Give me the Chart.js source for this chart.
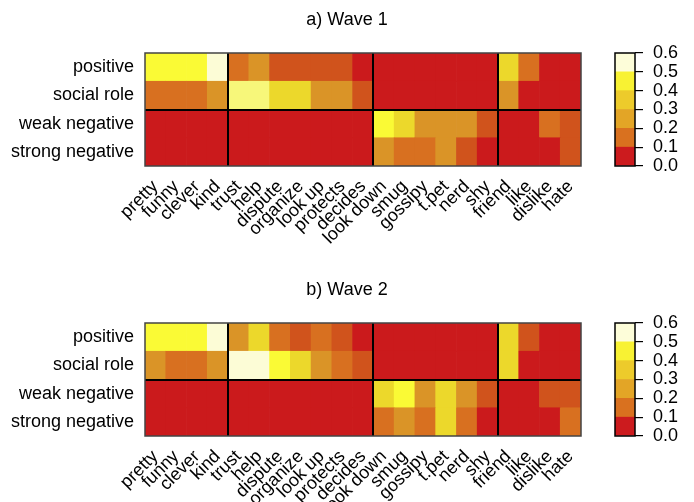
<!DOCTYPE html>
<html>
<head>
<meta charset="utf-8">
<script src="https://cdn.jsdelivr.net/npm/chart.js@4/dist/chart.umd.min.js"></script>
<style>
  body { margin: 0; background: #fff; }
  #wrap { position: relative; width: 694px; height: 502px; overflow: hidden; }
  canvas { position: absolute; }
</style>
</head>
<body>
<div id="wrap">
  <canvas id="heat1" style="left:0;top:0"></canvas>
  <canvas id="bar1" style="left:600px;top:0"></canvas>
  <canvas id="heat2" style="left:0;top:270px"></canvas>
  <canvas id="bar2" style="left:600px;top:270px"></canvas>
</div>
<script>
// Words (columns) and word types (rows)
const columns = ['pretty', 'funny', 'clever', 'kind',
    'trust', 'help', 'dispute', 'organize', 'look up', 'protects', 'decides',
    'look down', 'smug', 'gossipy', 't.pet', 'nerd', 'shy',
    'friend', 'like', 'dislike', 'hate'];
const rows = ['positive', 'social role', 'weak negative', 'strong negative'];
const groupEnds = [3, 10, 16];   // last column of each word group

// Wave 1 values
const w1Positive  = [0.45, 0.45, 0.45, 0.58, 0.17, 0.24, 0.12, 0.12, 0.12, 0.12, 0.05, 0.02, 0.02, 0.02, 0.02, 0.02, 0.02, 0.35, 0.17, 0.03, 0.03];
const w1Social    = [0.17, 0.17, 0.17, 0.24, 0.52, 0.52, 0.35, 0.35, 0.24, 0.24, 0.12, 0.02, 0.02, 0.02, 0.02, 0.02, 0.02, 0.24, 0.03, 0.02, 0.02];
const w1WeakNeg   = [0.02, 0.02, 0.02, 0.02, 0.02, 0.02, 0.02, 0.02, 0.02, 0.02, 0.02, 0.45, 0.35, 0.24, 0.24, 0.24, 0.12, 0.04, 0.03, 0.17, 0.12];
const w1StrongNeg = [0.02, 0.02, 0.02, 0.02, 0.02, 0.02, 0.02, 0.02, 0.02, 0.02, 0.02, 0.24, 0.17, 0.17, 0.24, 0.12, 0.04, 0.03, 0.03, 0.04, 0.12];

// Wave 2 values
const w2Positive  = [0.45, 0.45, 0.45, 0.58, 0.24, 0.35, 0.17, 0.12, 0.17, 0.12, 0.05, 0.02, 0.02, 0.02, 0.02, 0.02, 0.02, 0.35, 0.12, 0.03, 0.03];
const w2Social    = [0.24, 0.17, 0.17, 0.24, 0.58, 0.58, 0.45, 0.35, 0.24, 0.17, 0.12, 0.02, 0.02, 0.02, 0.02, 0.02, 0.02, 0.35, 0.03, 0.02, 0.02];
const w2WeakNeg   = [0.02, 0.02, 0.02, 0.02, 0.02, 0.02, 0.02, 0.02, 0.02, 0.02, 0.02, 0.35, 0.45, 0.24, 0.35, 0.24, 0.12, 0.04, 0.03, 0.12, 0.12];
const w2StrongNeg = [0.02, 0.02, 0.02, 0.02, 0.02, 0.02, 0.02, 0.02, 0.02, 0.02, 0.02, 0.17, 0.24, 0.17, 0.35, 0.17, 0.04, 0.03, 0.03, 0.04, 0.17];

// Colour scale
const colorBreaks = [0.1, 0.14, 0.2, 0.3, 0.4, 0.5, 0.55, 0.61];
const cellColors  = ['#cb1a1c', '#d0531c', '#d87020', '#da9427', '#ecd82b', '#fafa35', '#f7f77a', '#fcfcd6'];
const legendTicks  = [0, 0.1, 0.2, 0.3, 0.4, 0.5, 0.6];
const legendColors = ['#cc1b1e', '#d9711f', '#e3a526', '#edcb2b', '#f8f233', '#fdfdd9'];

Chart.defaults.font.family = '"Liberation Sans", Arial, Helvetica, sans-serif';
Chart.defaults.color = '#000';
Chart.defaults.animation = false;

function cellColor(v) {
    for (let i = 0; i < colorBreaks.length; i++) {
        if (v < colorBreaks[i]) return cellColors[i];
    }
    return cellColors[cellColors.length - 1];
}

// frame and group separators
const blockLines = {
    id: 'blockLines',
    afterDatasetsDraw(chart) {
        const {ctx, chartArea: a, scales: {x, y}} = chart;
        ctx.save();
        ctx.strokeStyle = '#000';
        ctx.lineWidth = 2;
        ctx.beginPath();
        groupEnds.forEach(i => {
            const px = Math.round((x.getPixelForValue(i) + x.getPixelForValue(i + 1)) / 2);
            ctx.moveTo(px, a.top);
            ctx.lineTo(px, a.bottom);
        });
        const py = Math.round(y.getPixelForValue(2));
        ctx.moveTo(a.left, py);
        ctx.lineTo(a.right, py);
        ctx.stroke();
        ctx.strokeStyle = '#444';
        ctx.lineWidth = 1.5;
        ctx.strokeRect(a.left, a.top, a.right - a.left, a.bottom - a.top);
        ctx.restore();
    }
};

const boxBorder = {
    id: 'boxBorder',
    afterDatasetsDraw(chart) {
        const {ctx, chartArea: a} = chart;
        ctx.save();
        ctx.strokeStyle = '#000';
        ctx.lineWidth = 1.5;
        ctx.strokeRect(a.left, a.top, a.right - a.left, a.bottom - a.top);
        ctx.restore();
    }
};

function makeHeatmap(id, title, height, rowValues) {
    const canvas = document.getElementById(id);
    canvas.width = 694;
    canvas.height = height;
    canvas.style.width = '694px';
    canvas.style.height = height + 'px';

    // bottom row first so the stack reads top-down like the table
    const datasets = rowValues.slice().reverse().map(vals => ({
        data: vals.map(() => 1),
        backgroundColor: vals.map(cellColor),
        borderWidth: 0,
        categoryPercentage: 1,
        barPercentage: 1
    }));

    return new Chart(canvas, {
        type: 'bar',
        data: { labels: columns, datasets: datasets },
        options: {
            responsive: false,
            layout: { padding: 0 },
            plugins: {
                legend: { display: false },
                tooltip: { enabled: false },
                title: {
                    display: true,
                    text: title,
                    font: { size: 18, weight: 'normal' },
                    color: '#000',
                    padding: { top: 9, bottom: 22.4 }
                }
            },
            scales: {
                x: {
                    stacked: true,
                    grid: { display: false },
                    border: { display: false },
                    ticks: {
                        autoSkip: false,
                        maxRotation: 45,
                        minRotation: 45,
                        padding: 2,
                        font: { size: 18 }
                    },
                    afterFit: s => { s.height = height - 166; }
                },
                y: {
                    stacked: true,
                    min: 0,
                    max: 4,
                    grid: { display: false },
                    border: { display: false },
                    afterBuildTicks: s => {
                        s.ticks = [0.5, 1.5, 2.5, 3.5].map(v => ({ value: v }));
                    },
                    ticks: {
                        padding: 3,
                        font: { size: 18 },
                        callback: v => rows[3 - Math.floor(v)]
                    },
                    afterFit: s => { s.width = 145; }
                },
                // empty strip that keeps room for the colour bar
                yRight: {
                    position: 'right',
                    grid: { display: false },
                    border: { display: false },
                    ticks: { display: false },
                    afterFit: s => { s.width = 113; }
                }
            }
        },
        plugins: [blockLines]
    });
}

function makeColorBar(id, height) {
    const canvas = document.getElementById(id);
    canvas.width = 94;
    canvas.height = height;
    canvas.style.width = '94px';
    canvas.style.height = height + 'px';

    return new Chart(canvas, {
        type: 'bar',
        data: {
            labels: [''],
            datasets: legendColors.map(c => ({
                data: [0.1],
                backgroundColor: c,
                borderWidth: 0,
                categoryPercentage: 1,
                barPercentage: 1
            }))
        },
        options: {
            responsive: false,
            layout: { padding: { left: 15, right: 0, top: 53, bottom: height - 166 } },
            plugins: { legend: { display: false }, tooltip: { enabled: false } },
            scales: {
                x: { stacked: true, display: false },
                y: {
                    stacked: true,
                    position: 'right',
                    min: 0,
                    max: 0.6,
                    afterBuildTicks: s => {
                        s.ticks = legendTicks.map(v => ({ value: v }));
                    },
                    grid: {
                        drawOnChartArea: false,
                        drawTicks: true,
                        tickLength: 8,
                        color: '#000',
                        lineWidth: 1.2
                    },
                    border: { display: false },
                    ticks: {
                        autoSkip: false,
                        padding: 10,
                        font: { size: 18 },
                        callback: v => v.toFixed(1)
                    },
                    afterFit: s => { s.width = 59; }
                }
            }
        },
        plugins: [boxBorder]
    });
}

makeHeatmap('heat1', 'a) Wave 1', 270, [w1Positive, w1Social, w1WeakNeg, w1StrongNeg]);
makeColorBar('bar1', 270);
makeHeatmap('heat2', 'b) Wave 2', 232, [w2Positive, w2Social, w2WeakNeg, w2StrongNeg]);
makeColorBar('bar2', 232);
</script>
</body>
</html>
